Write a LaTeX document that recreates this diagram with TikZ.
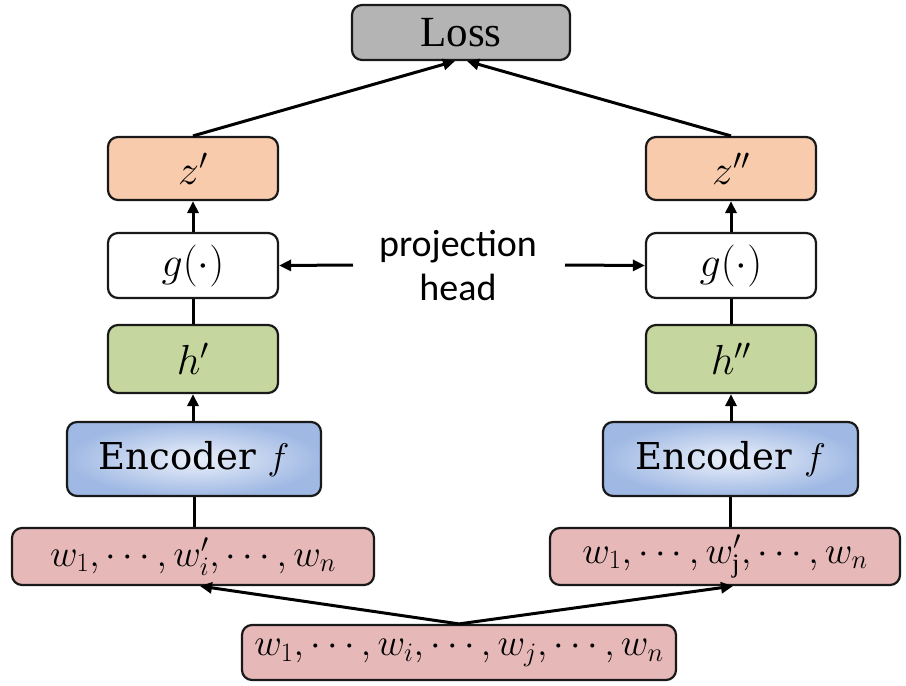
\RequirePackage{fix-cm}
\documentclass[tikz,border=0pt]{standalone}
\usepackage{fontspec}
\setmainfont{Liberation Serif}
\newfontfamily\labelfont{Carlito}
\newfontfamily\encfont{DejaVu Serif}
\usetikzlibrary{arrows.meta,calc}

\definecolor{lossgray}{RGB}{180,180,180}
\definecolor{zpeach}{RGB}{248,203,173}
\definecolor{hgreen}{RGB}{197,215,158}
\definecolor{encblue}{RGB}{160,185,228}
\definecolor{encglow}{RGB}{236,241,250}
\definecolor{wpink}{RGB}{230,185,184}
\definecolor{edge}{RGB}{25,25,25}

\tikzset{
  box/.style={draw=edge, line width=2.2pt, rounded corners=10pt, inner sep=0pt,
    align=center, font=\fontsize{42}{48}\selectfont},
  lossbox/.style={box, fill=lossgray, minimum width=218pt, minimum height=55pt,
    font=\fontsize{43}{48}\selectfont},
  zbox/.style={box, fill=zpeach, minimum width=170pt, minimum height=63pt},
  gbox/.style={box, fill=white, minimum width=170pt, minimum height=65pt},
  hbox/.style={box, fill=hgreen, minimum width=170pt, minimum height=68pt},
  encbox/.style={box, inner color=encglow, outer color=encblue, minimum height=74pt,
    font=\encfont\fontsize{37}{44}\selectfont},
  wbox/.style={box, fill=wpink, minimum height=57pt, font=\fontsize{38}{44}\selectfont},
  conn/.style={line width=3pt, draw=black},
  arr/.style={conn, -{Triangle[length=12pt,width=11pt]}},
}

\begin{document}
\begin{tikzpicture}[x=1pt, y=-1pt]
  \useasboundingbox (0,0) rectangle (906,686);

  % top: loss
  \node[lossbox] (loss) at (461,32.5) {Loss};

  % left branch
  \node[zbox] (zl) at (193,168.5) {$z'$};
  \node[gbox] (gl) at (193,265.5) {$g(\cdot)$};
  \node[hbox] (hl) at (193,359) {$h'$};
  \node[encbox, minimum width=254pt] (encl) at (194,459) {Encoder $f$};
  \node[wbox, minimum width=362pt] (wl) at (193,556.5) {$w_1,\cdots,w_i',\cdots,w_n$};

  % right branch
  \node[zbox] (zr) at (731,168.5) {$z''$};
  \node[gbox] (gr) at (731,265.5) {$g(\cdot)$};
  \node[hbox] (hr) at (731,359) {$h''$};
  \node[encbox, minimum width=255pt] (encr) at (730.5,459) {Encoder $f$};
  \node[wbox, minimum width=350pt] (wr) at (725,556.5) {$w_1,\cdots,w_{\mathrm{j}}',\cdots,w_n$};

  % shared input sequence
  \node[wbox, minimum width=434pt, minimum height=55pt] (wb) at (459,652.5)
    {$w_1,\cdots,w_i,\cdots,w_j,\cdots,w_n$};

  % projection head label
  \node[font=\labelfont\fontsize{38}{44}\selectfont, align=center] (proj) at (458,265)
    {projection\\head};
  \coordinate (pl) at (353,265);
  \coordinate (pr) at (565,265);

  % arrow targets
  \coordinate (lossinl) at ($(loss.south)+(-6,0)$);
  \coordinate (lossinr) at ($(loss.south)+(6,0)$);
  \coordinate (wlin) at ($(wl.south)+(7,0)$);
  \coordinate (wrin) at ($(wr.south)+(8,0)$);

  % left chain
  \draw[conn] (wl.north -| encl) -- (encl.south);
  \draw[arr] (encl.north -| hl) -- (hl.south);
  \draw[conn] (hl.north) -- (gl.south);
  \draw[arr] (gl.north) -- (zl.south);

  % right chain
  \draw[conn] (wr.north -| encr) -- (encr.south);
  \draw[arr] (encr.north -| hr) -- (hr.south);
  \draw[conn] (hr.north) -- (gr.south);
  \draw[arr] (gr.north) -- (zr.south);

  % into the loss
  \draw[arr] (zl.north) -- (lossinl);
  \draw[arr] (zr.north) -- (lossinr);

  % projection head pointers
  \draw[arr] (pl) -- (gl.east);
  \draw[arr] (pr) -- (gr.west);

  % augmentation fan-out
  \draw[arr] (wb.north) -- (wlin);
  \draw[arr] (wb.north) -- (wrin);
\end{tikzpicture}
\end{document}
